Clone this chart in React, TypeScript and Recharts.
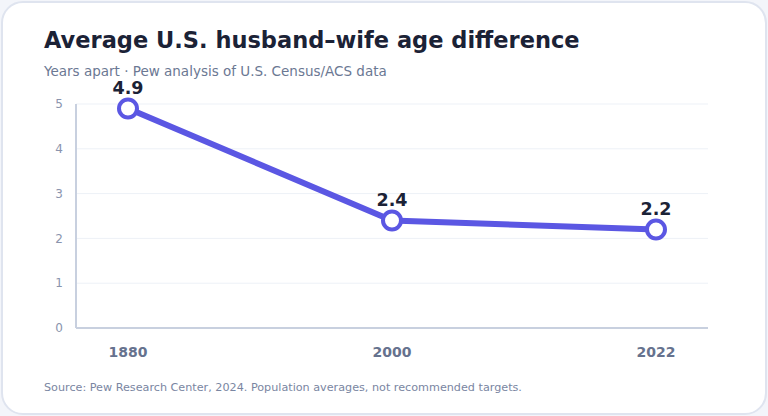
import { LineChart, Line, XAxis, YAxis, CartesianGrid, LabelList } from "recharts";

const years = ["1880", "2000", "2022"];
const ageGap = [4.9, 2.4, 2.2];
const yTicks = [0, 1, 2, 3, 4, 5];

const data = years.map((year, i) => ({ year, gap: ageGap[i] }));

const font = "'DejaVu Sans', Verdana, sans-serif";

export default function App() {
  return (
    <div
      style={{
        position: "absolute",
        top: 0,
        left: 0,
        width: 768,
        height: 416,
        background: "#f3f5fa",
        fontFamily: font,
      }}
    >
      <div
        style={{
          position: "absolute",
          top: 1,
          left: 1,
          width: 762,
          height: 410,
          background: "#ffffff",
          border: "2px solid #dfe4ef",
          borderRadius: 22,
        }}
      />
      <div
        style={{
          position: "absolute",
          left: 44,
          top: 27,
          fontSize: 22.5,
          fontWeight: 700,
          color: "#1b2236",
          whiteSpace: "nowrap",
        }}
      >
        Average U.S. husband–wife age difference
      </div>
      <div
        style={{
          position: "absolute",
          left: 44,
          top: 63,
          fontSize: 13.5,
          color: "#6b7893",
          whiteSpace: "nowrap",
        }}
      >
        Years apart · Pew analysis of U.S. Census/ACS data
      </div>
      <div style={{ position: "absolute", left: 0, top: 0 }}>
        <LineChart
          width={768}
          height={416}
          data={data}
          margin={{ top: 104, right: 60, bottom: 48, left: 0 }}
        >
          <CartesianGrid vertical={false} stroke="#edf1f7" strokeWidth={1} />
          <XAxis
            dataKey="year"
            padding={{ left: 52, right: 52 }}
            axisLine={{ stroke: "#c8d0df", strokeWidth: 2 }}
            tickLine={false}
            tickMargin={13}
            height={40}
            tick={{ fontSize: 14, fontWeight: 700, fill: "#66728e", fontFamily: font }}
          />
          <YAxis
            domain={[0, 5]}
            ticks={yTicks}
            width={76}
            axisLine={{ stroke: "#c8d0df", strokeWidth: 2 }}
            tickLine={false}
            tickMargin={7}
            tick={{ fontSize: 12, fill: "#8a94ad", fontFamily: font }}
          />
          <Line
            dataKey="gap"
            stroke="#5b57e3"
            strokeWidth={6}
            dot={{ r: 9, fill: "#ffffff", stroke: "#5b57e3", strokeWidth: 4 }}
            activeDot={false}
            isAnimationActive={false}
          >
            <LabelList
              dataKey="gap"
              position="top"
              offset={14}
              style={{ fontSize: 17.5, fontWeight: 700, fill: "#1b2236", fontFamily: font }}
            />
          </Line>
        </LineChart>
      </div>
      <div
        style={{
          position: "absolute",
          left: 44,
          top: 381,
          fontSize: 11.2,
          color: "#7a86a2",
          whiteSpace: "nowrap",
        }}
      >
        Source: Pew Research Center, 2024. Population averages, not recommended targets.
      </div>
    </div>
  );
}
